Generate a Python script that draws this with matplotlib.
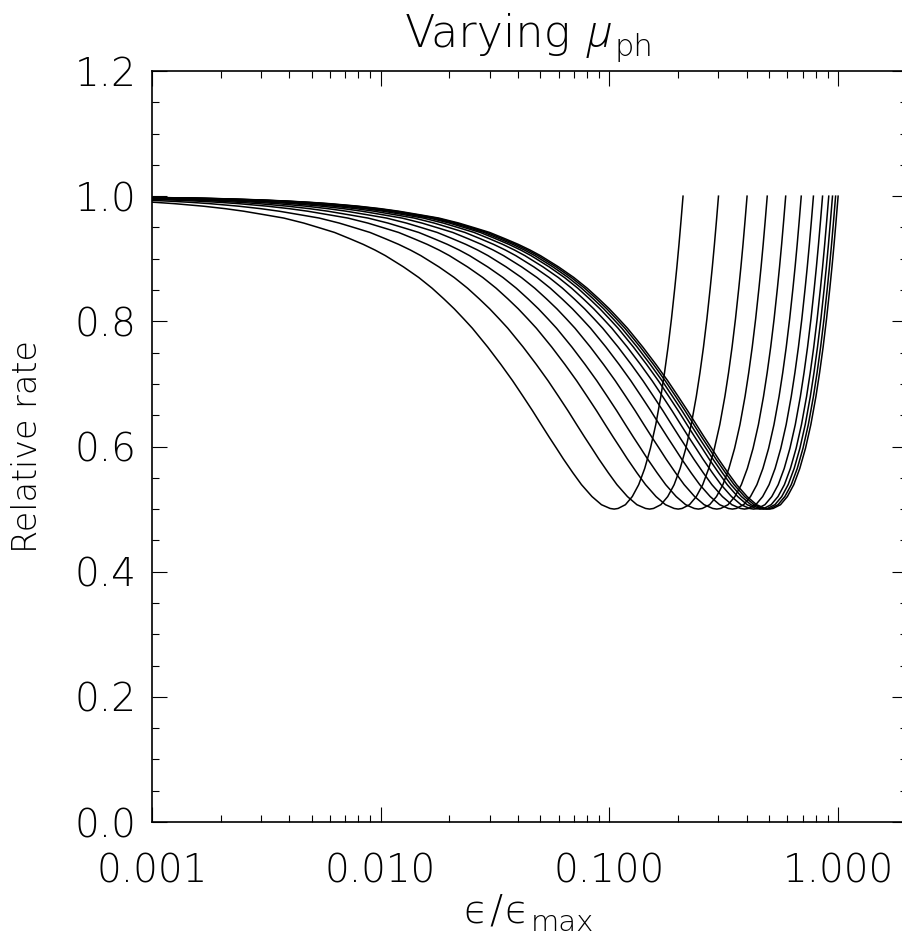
import numpy as np
import matplotlib
matplotlib.use('Agg')
import matplotlib.pyplot as plt
from matplotlib import font_manager
from matplotlib.ticker import LogLocator, NullFormatter, MultipleLocator

# common shape of every curve: relative rate against eps / eps_end,
# read off the lowest curve (all curves are the same shape shifted in log x)
u_profile = [0.001, 0.0015, 0.002, 0.003, 0.004, 0.005, 0.006, 0.008, 0.010, 0.012,
             0.015, 0.018, 0.022, 0.026, 0.030, 0.035, 0.040, 0.045, 0.050, 0.060,
             0.070, 0.080, 0.090, 0.100, 0.110, 0.120, 0.140, 0.160, 0.180, 0.200,
             0.220, 0.240, 0.260, 0.280, 0.300, 0.330, 0.360, 0.400, 0.440, 0.480,
             0.500, 0.520, 0.560, 0.600, 0.640, 0.680, 0.720, 0.760, 0.800, 0.830,
             0.860, 0.890, 0.920, 0.940, 0.960, 0.980, 1.000]
rate_profile = [0.998, 0.997, 0.996, 0.994, 0.992, 0.990, 0.988, 0.984, 0.980, 0.976,
                0.970, 0.965, 0.957, 0.949, 0.942, 0.932, 0.923, 0.914, 0.905, 0.887,
                0.870, 0.853, 0.836, 0.820, 0.804, 0.789, 0.759, 0.731, 0.705, 0.680,
                0.657, 0.635, 0.615, 0.597, 0.580, 0.558, 0.539, 0.520, 0.507, 0.501,
                0.500, 0.501, 0.507, 0.520, 0.539, 0.565, 0.597, 0.635, 0.680, 0.718,
                0.759, 0.804, 0.853, 0.887, 0.923, 0.961, 1.000]

# eps/eps_max where each curve climbs back to 1.0 (one curve per mu_ph)
eps_end = [0.21, 0.30, 0.40, 0.49, 0.59, 0.69, 0.78, 0.855, 0.91, 0.945, 0.975, 1.0]

x_ticks = [0.001, 0.01, 0.1, 1.0]
x_ticklabels = ['0.001', '0.010', '0.100', '1.000']
y_ticks = [0.0, 0.2, 0.4, 0.6, 0.8, 1.0, 1.2]
y_ticklabels = ['0.0', '0.2', '0.4', '0.6', '0.8', '1.0', '1.2']

# thin, wide lettering like the original; take the first light face available
light = {}
light_italic = {}
for f in font_manager.fontManager.ttflist:
    if not isinstance(f.weight, int) or f.weight > 300:
        continue
    if f.style == 'normal':
        light.setdefault(f.name, f.weight)
    else:
        light_italic.setdefault(f.name, f.weight)
family, weight = 'DejaVu Sans', 'normal'
for name in ['DejaVu Sans', 'Open Sans', 'Lato', 'Roboto', 'Inter']:
    if name in light:
        family, weight = name, light[name]
        break
# the mu in the title is slanted; use a light italic face if one is there
mu_family, mu_weight, mu_style = family, weight, 'normal'
for name in ['Open Sans', 'Roboto', 'Lato', 'Inter']:
    if name in light_italic:
        mu_family, mu_weight, mu_style = name, light_italic[name], 'italic'
        break

plt.rcParams['font.family'] = [family, 'DejaVu Sans']
plt.rcParams['font.weight'] = weight

W, H = 902, 939
fig = plt.figure(figsize=(W / 100, H / 100), dpi=100)
# right edge of the frame sits just past the canvas, as in the original
ax = fig.add_axes([151.7 / W, (H - 822) / H, 755.3 / W, 751 / H])

u = np.array(u_profile)
for e in eps_end:
    ax.plot(u * e, rate_profile, color='black', lw=1.1)

ax.set_xscale('log')
ax.set_xlim(0.001, 2.0)
ax.set_ylim(0.0, 1.2)

ax.set_xticks(x_ticks)
ax.set_xticklabels(x_ticklabels)
ax.xaxis.set_minor_locator(LogLocator(base=10, subs=np.arange(2, 10)))
ax.xaxis.set_minor_formatter(NullFormatter())
ax.set_yticks(y_ticks)
ax.set_yticklabels(y_ticklabels)
ax.yaxis.set_minor_locator(MultipleLocator(0.05))

ax.tick_params(which='both', direction='in', top=True, right=True, width=0.8, colors='black')
ax.tick_params(which='major', length=10.8)
ax.tick_params(which='minor', length=5)
ax.tick_params(axis='x', which='major', pad=22, labelsize=28)
ax.tick_params(axis='y', which='major', pad=11, labelsize=28)
for lab in ax.get_xticklabels() + ax.get_yticklabels():
    lab.set_fontweight(weight)
for s in ax.spines.values():
    s.set_linewidth(1.2)

ax.set_ylabel('Relative rate', fontsize=24, fontweight=weight, labelpad=22)

renderer = fig.canvas.get_renderer()


def text_row(xc, y_base, pieces):
    # pieces: (text, fontsize, font dict, drop in px, gap after in px)
    items = []
    total = 0
    for s, size, font, drop, gap in pieces:
        t = fig.text(0, 0, s, fontsize=size, va='baseline', ha='left', **font)
        w = t.get_window_extent(renderer).width
        items.append((t, w, drop, gap))
        total += w + gap
    x = xc - total / 2
    for t, w, drop, gap in items:
        t.set_position((x / W, 1 - (y_base + drop) / H))
        x += w + gap


plain = dict(fontweight=weight)
mu_font = dict(family=[mu_family, 'DejaVu Sans'], fontweight=mu_weight, fontstyle=mu_style)

text_row(529, 47, [('Varying', 32, plain, 0, 16),
                   ('\u03bc', 32, mu_font, 0, 2),
                   ('ph', 22, plain, 9, 0)])
text_row(529, 923, [('\u03f5', 28, plain, 0, 2),
                    ('/', 28, plain, 0, 2),
                    ('\u03f5', 28, plain, 0, 2),
                    ('max', 21, plain, 8, 0)])

fig.savefig('out.png', dpi=100)
